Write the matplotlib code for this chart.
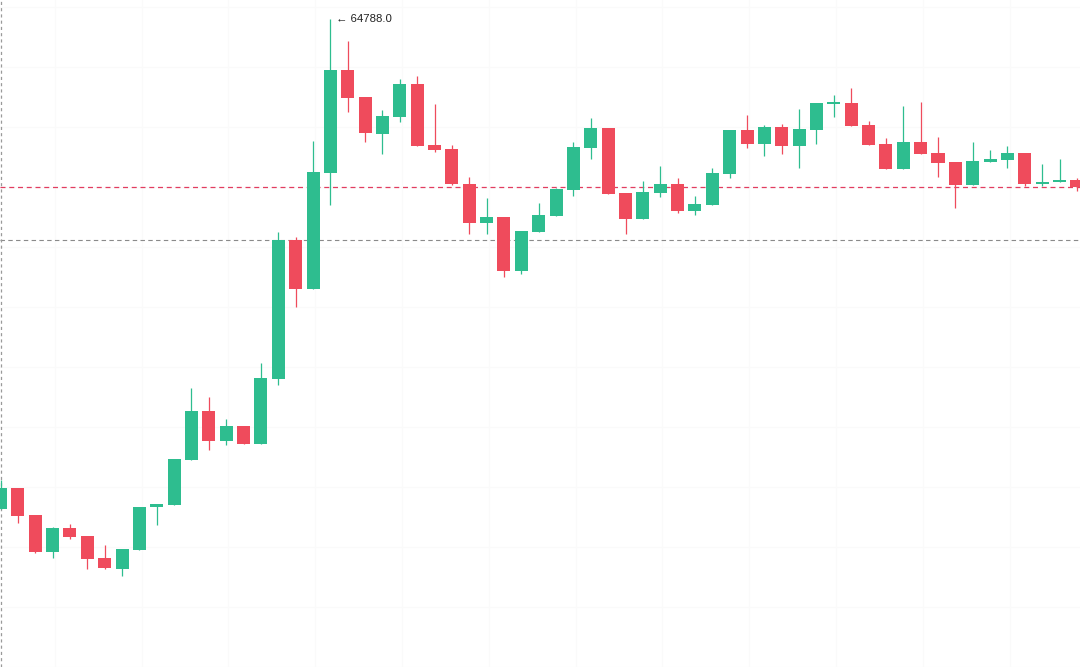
import numpy as np
import matplotlib
matplotlib.use("Agg")
import matplotlib.pyplot as plt

# OHLC (oldest first)
opens = [60868, 61036, 60820, 60524, 60716, 60652, 60476, 60388, 60540, 60884,
         60900, 61260, 61652, 61412, 61532, 61388, 61908, 63020, 62628, 63556,
         64380, 64164, 63868, 64004, 64268, 63780, 63748, 63468, 63156, 63204,
         62772, 63084, 63212, 63420, 63756, 63916, 63396, 63188, 63396, 63468,
         63252, 63300, 63548, 63900, 63788, 63924, 63772, 63900, 64108, 64116,
         63940, 63788, 63588, 63804, 63716, 63644, 63460, 63644, 63660, 63716,
         63468, 63484, 63500]
highs = [61100, 61036, 60820, 60724, 60748, 60652, 60580, 60548, 60884, 60908,
         61268, 61836, 61764, 61588, 61532, 62036, 63084, 63044, 63812, 64788,
         64612, 64164, 64060, 64308, 64332, 64108, 63780, 63524, 63356, 63204,
         63092, 63316, 63436, 63804, 63996, 63916, 63396, 63492, 63612, 63516,
         63372, 63596, 63900, 64020, 63940, 63948, 64068, 64116, 64180, 64236,
         63972, 63836, 64092, 64124, 63844, 63644, 63804, 63740, 63772, 63716,
         63628, 63668, 63516]
lows = [60868, 60756, 60516, 60476, 60628, 60388, 60388, 60332, 60540, 60740,
        60900, 61260, 61340, 61380, 61388, 61388, 61860, 62484, 62628, 63300,
        64044, 63804, 63708, 63964, 63772, 63724, 63460, 63068, 63068, 62724,
        62748, 63084, 63212, 63372, 63668, 63388, 63068, 63188, 63364, 63236,
        63220, 63300, 63516, 63756, 63692, 63708, 63596, 63788, 64004, 63932,
        63780, 63588, 63588, 63708, 63524, 63276, 63460, 63644, 63596, 63452,
        63452, 63484, 63412]
closes = [61036, 60812, 60524, 60716, 60644, 60468, 60396, 60548, 60884, 60908,
          61268, 61652, 61412, 61532, 61388, 61916, 63020, 62628, 63564, 64380,
          64156, 63876, 64012, 64268, 63772, 63740, 63468, 63156, 63204, 62772,
          63092, 63220, 63428, 63764, 63916, 63388, 63188, 63404, 63468, 63252,
          63308, 63556, 63900, 63788, 63924, 63772, 63908, 64116, 64124, 63932,
          63780, 63588, 63804, 63708, 63636, 63460, 63652, 63668, 63716, 63468,
          63484, 63500, 63444]
other_line = 63020  # grey dashed level

up_color = "#2ebd8f"
down_color = "#ef4b5c"

o = np.array(opens)
h = np.array(highs)
l = np.array(lows)
c = np.array(closes)
x = np.arange(len(o))
cols = [up_color if cc >= oo else down_color for oo, cc in zip(o, c)]

fig = plt.figure(figsize=(10.8, 6.67), dpi=100)
ax = fig.add_axes([0, 0, 1, 1])

# very faint grid
for gx in np.arange(3.13, 63, 5):
    ax.axvline(gx, color="#fafafa", lw=0.8, zorder=0)
for gy in np.arange(64884, 59600, -480):
    ax.axhline(gy, color="#fafafa", lw=0.8, zorder=0)

# wicks and bodies
ax.vlines(x, l, h, colors=cols, linewidth=0.9, zorder=2)
body_low = np.minimum(o, c)
body_h = np.maximum(np.abs(c - o), 10)
ax.bar(x, body_h, bottom=body_low, width=0.75, color=cols, linewidth=0, zorder=3)

# price lines
ax.axhline(closes[-1], color="#e23d5f", lw=0.9, dashes=(4, 3), zorder=1)
ax.axhline(other_line, color="#8a8a8a", lw=0.8, dashes=(4, 3), zorder=1)
ax.axvline(0.03, color="#9a9a9a", lw=0.9, dashes=(2.5, 2.5), zorder=1)

# max high label
imax = int(np.argmax(h))
ax.annotate("\u2190 %.1f" % h[imax], xy=(imax, h[imax]), xytext=(4, 0),
            textcoords="offset points", ha="left", va="center",
            fontsize=8.2, color="#222222",
            family=["Liberation Sans", "DejaVu Sans"])

ax.set_xlim(-0.03, 62.18)
ax.set_ylim(59604, 64940)
ax.axis("off")

fig.savefig("out.png", dpi=100)
